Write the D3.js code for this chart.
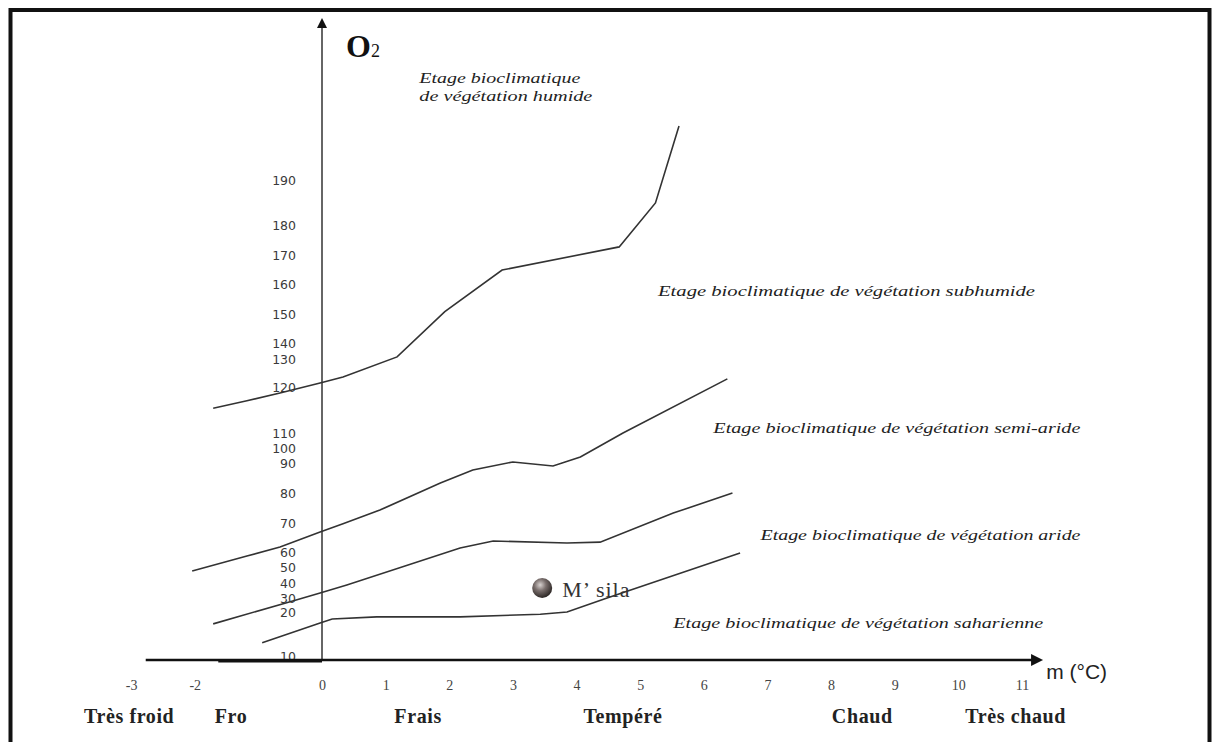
<!DOCTYPE html>
<html>
<head>
<meta charset="utf-8">
<script src="https://cdn.jsdelivr.net/npm/d3@7"></script>
<style>
  body { margin: 0; background: #fff; }
</style>
</head>
<body>
<div id="chart"></div>
<script>
// axis values
const yTicks = [10, 20, 30, 40, 50, 60, 70, 80, 90, 100, 110, 120, 130, 140, 150, 160, 170, 180, 190];
const xTicks = [-3, -2, 0, 1, 2, 3, 4, 5, 6, 7, 8, 9, 10, 11];

// thermal classes under the x axis (m, °C)
const zones = ['Très froid', 'Fro', 'Frais', 'Tempéré', 'Chaud', 'Très chaud'];
const zoneM = [-3.03, -1.43, 1.51, 4.73, 8.49, 10.9];

// boundary curves (m in °C, Q2)
const humidM = [-1.71, -1.18, -0.66, -0.03, 0.33, 1.18, 1.93, 2.83, 4.67, 5.24, 5.61];
const humidQ = [115.4, 117.0, 118.7, 121.4, 123.6, 131.3, 150.8, 164.8, 172.7, 184.9, 202.0];
const subhumidM = [-2.04, -1.18, -0.66, -0.03, 0.33, 0.91, 1.86, 2.37, 3.00, 3.63, 4.06, 4.73, 6.37];
const subhumidQ = [47.5, 57.3, 61.7, 66.9, 69.7, 74.3, 83.3, 87.7, 90.7, 89.0, 94.0, 110.0, 122.9];
const semiAridM = [-1.71, -0.46, -0.03, 0.39, 2.17, 2.69, 3.85, 4.37, 5.52, 6.45];
const semiAridQ = [17.3, 27.9, 33.3, 38.7, 61.4, 63.8, 63.1, 63.4, 73.3, 80.0];
const aridM = [-0.94, -0.03, 0.16, 0.86, 2.17, 3.43, 3.85, 4.48, 6.57];
const aridQ = [13.0, 17.5, 18.4, 18.9, 18.9, 19.5, 20.0, 30.0, 59.3];

// station
const stationName = 'M’ sila';
const stationM = 3.46;
const stationQ = 36.7;

const w = 1217;
const h = 742;

const svg = d3.select('#chart').append('svg')
    .attr('width', w)
    .attr('height', h)
    .style('display', 'block');

svg.append('rect').attr('width', w).attr('height', h).attr('fill', '#fff');

// frame
svg.append('rect')
    .attr('x', 10.5).attr('y', 10)
    .attr('width', 1199).attr('height', 780)
    .attr('fill', 'none')
    .attr('stroke', '#111')
    .attr('stroke-width', 4);

const defs = svg.append('defs');
defs.append('marker')
    .attr('id', 'arrow')
    .attr('viewBox', '0 0 10 10')
    .attr('refX', 2).attr('refY', 5)
    .attr('markerWidth', 11).attr('markerHeight', 10)
    .attr('markerUnits', 'userSpaceOnUse')
    .attr('orient', 'auto')
    .append('path').attr('d', 'M0,0 L10,5 L0,10 z').attr('fill', '#111');
defs.append('marker')
    .attr('id', 'arrowBig')
    .attr('viewBox', '0 0 10 10')
    .attr('refX', 2).attr('refY', 5)
    .attr('markerWidth', 14).attr('markerHeight', 12)
    .attr('markerUnits', 'userSpaceOnUse')
    .attr('orient', 'auto')
    .append('path').attr('d', 'M0,0 L10,5 L0,10 z').attr('fill', '#111');

const grad = defs.append('radialGradient').attr('id', 'ball')
    .attr('cx', '40%').attr('cy', '35%').attr('r', '65%');
grad.append('stop').attr('offset', '0%').attr('stop-color', '#d8d2d0');
grad.append('stop').attr('offset', '45%').attr('stop-color', '#7a6f6d');
grad.append('stop').attr('offset', '100%').attr('stop-color', '#2e2826');

// scales (the O2 axis of the original is drawn with uneven spacing)
const xScale = d3.scaleLinear().domain([0, 11]).range([322, 1022]);
const yScale = d3.scaleLinear()
    .domain(yTicks)
    .range([656, 612, 598, 583, 567, 552, 523, 493, 463, 448, 433, 387, 359, 343, 314, 284, 255, 225, 180]);

const x0 = xScale(0);
const yBase = 660;

// y axis labels
const yAxis = d3.axisLeft(yScale).tickValues(yTicks).tickSize(0).tickPadding(26);
const gy = svg.append('g')
    .attr('transform', `translate(${x0},0)`)
    .call(yAxis);
gy.select('.domain').remove();
gy.selectAll('text')
    .style('font-family', 'DejaVu Sans, sans-serif')
    .style('font-size', '12.5px')
    .attr('fill', '#3a3a3a');

// x axis labels
const xAxis = d3.axisBottom(xScale).tickValues(xTicks).tickSize(0).tickPadding(20).tickFormat(d => String(d));
const gx = svg.append('g')
    .attr('transform', `translate(0,${yBase})`)
    .call(xAxis);
gx.select('.domain').remove();
gx.selectAll('text')
    .style('font-family', 'Liberation Serif, serif')
    .style('font-size', '14px')
    .attr('fill', '#444');

// axis lines
svg.append('line')
    .attr('x1', x0).attr('y1', yBase)
    .attr('x2', x0).attr('y2', 26)
    .attr('stroke', '#666')
    .attr('stroke-width', 2)
    .attr('marker-end', 'url(#arrow)');

svg.append('line')
    .attr('x1', xScale(-2.77)).attr('y1', yBase)
    .attr('x2', xScale(11.18)).attr('y2', yBase)
    .attr('stroke', '#111')
    .attr('stroke-width', 2.5)
    .attr('marker-end', 'url(#arrowBig)');

svg.append('line')
    .attr('x1', xScale(-1.63)).attr('y1', yBase + 1)
    .attr('x2', x0).attr('y2', yBase + 1)
    .attr('stroke', '#111')
    .attr('stroke-width', 3);

// axis titles
const o2 = svg.append('text')
    .attr('x', x0 + 24).attr('y', 57)
    .style('font-family', 'Liberation Serif, serif')
    .style('font-weight', 'bold')
    .style('font-size', '32px')
    .attr('fill', '#111')
    .text('O');
o2.append('tspan').style('font-size', '18px').style('font-weight', 'normal').text('2');

svg.append('text')
    .attr('x', xScale(11.38)).attr('y', 679)
    .style('font-family', 'Liberation Sans, Arial, sans-serif')
    .style('font-size', '21px')
    .attr('fill', '#222')
    .text('m (°C)');

// thermal classes
svg.append('g').selectAll('text')
    .data(zones)
    .enter()
    .append('text')
    .attr('x', (d, i) => xScale(zoneM[i]))
    .attr('y', 723)
    .attr('text-anchor', 'middle')
    .style('font-family', 'Liberation Serif, serif')
    .style('font-weight', 'bold')
    .style('font-size', '20px')
    .style('letter-spacing', '0.6px')
    .attr('fill', '#222')
    .text(d => d);

// boundary curves
const line = d3.line().x(d => xScale(d[0])).y(d => yScale(d[1]));
const curves = [
    d3.zip(humidM, humidQ),
    d3.zip(subhumidM, subhumidQ),
    d3.zip(semiAridM, semiAridQ),
    d3.zip(aridM, aridQ)
];
svg.append('g').selectAll('path')
    .data(curves)
    .enter()
    .append('path')
    .attr('d', line)
    .attr('fill', 'none')
    .attr('stroke', '#333')
    .attr('stroke-width', 1.6);

// bioclimatic stage notes
function note(txt, m, q, len) {
    svg.append('text')
        .attr('x', xScale(m)).attr('y', yScale(q))
        .attr('textLength', len)
        .attr('lengthAdjust', 'spacingAndGlyphs')
        .style('font-family', 'Liberation Serif, serif')
        .style('font-style', 'italic')
        .style('font-size', '14px')
        .attr('fill', '#222')
        .text(txt);
}
note('Etage bioclimatique', 1.53, 211.6, 161);
note('de végétation humide', 1.53, 207.5, 173);
note('Etage bioclimatique de végétation  subhumide', 5.28, 156, 377);
note('Etage bioclimatique de végétation semi-aride', 6.15, 110, 367);
note('Etage bioclimatique de végétation aride', 6.89, 64.1, 320);
note('Etage bioclimatique de végétation saharienne', 5.52, 16.4, 370);

// station
svg.append('circle')
    .attr('cx', xScale(stationM)).attr('cy', yScale(stationQ))
    .attr('r', 10)
    .attr('fill', 'url(#ball)');
svg.append('text')
    .attr('x', xScale(stationM) + 20).attr('y', yScale(stationQ) + 9)
    .style('font-family', 'Liberation Serif, serif')
    .style('font-size', '22px')
    .style('letter-spacing', '1px')
    .attr('fill', '#333')
    .text(stationName);
</script>
</body>
</html>
